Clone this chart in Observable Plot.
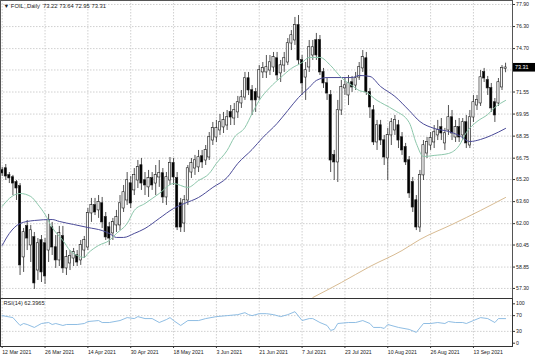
<!DOCTYPE html>
<html><head><meta charset="utf-8">
<script src="https://cdn.jsdelivr.net/npm/d3@7"></script>
<script src="https://cdn.jsdelivr.net/npm/@observablehq/plot@0.6"></script>
<style>
html,body{margin:0;padding:0;background:#fff;}
#chart{position:relative;width:536px;height:357px;overflow:hidden;background:#fff;}
#chart svg{position:absolute;left:0;display:block;overflow:visible;}
</style></head><body><div id="chart"></div>
<script>
const symbol = "FOIL,,Daily";
const opens = [65.86,66.00,65.50,65.35,64.99,64.70,59.55,61.80,60.42,61.00,
58.60,60.78,60.56,60.05,61.72,60.27,59.33,61.07,58.75,59.11,
59.47,59.69,59.33,60.05,60.27,62.74,63.32,62.96,63.46,62.45,
61.72,61.29,61.87,61.87,63.10,63.68,64.91,64.41,65.13,66.22,
65.13,64.63,65.28,64.91,65.35,65.64,63.90,65.13,66.37,65.28,
63.46,62.01,63.68,65.71,66.00,66.08,66.87,66.58,66.80,68.03,
68.25,68.76,68.98,69.12,70.07,69.63,70.07,70.72,71.15,72.53,
71.66,71.52,71.15,72.97,72.97,73.11,73.33,73.98,72.90,73.47,
73.69,75.07,75.29,76.38,73.84,72.60,73.33,74.20,75.29,75.29,
72.97,72.17,71.30,66.95,66.44,70.21,71.81,71.30,72.24,72.02,
72.60,73.26,73.98,71.52,70.21,67.89,69.12,68.03,66.73,68.40,
68.76,69.12,68.25,67.53,66.58,64.99,63.68,61.72,65.50,67.09,
67.67,67.89,68.40,68.98,67.82,68.76,69.70,68.25,68.98,68.40,
69.34,67.67,69.70,70.57,70.72,72.97,72.39,71.81,70.79,70.72,
71.88,73.22];
const highs = [66.08,66.29,65.71,65.50,65.13,64.91,61.65,62.23,61.87,61.36,
60.92,61.14,60.92,62.67,62.09,61.14,61.80,61.80,60.05,60.05,
60.20,60.05,60.78,61.07,63.10,63.83,63.83,64.04,63.90,62.81,
62.09,62.38,62.96,64.04,64.77,65.71,65.42,66.00,66.58,66.73,
65.71,65.86,65.71,66.22,66.58,66.00,65.71,66.80,66.73,65.71,
63.83,64.04,66.22,66.73,66.95,67.31,67.31,67.67,68.61,69.34,
69.49,69.92,70.07,70.21,70.57,70.72,71.23,71.66,72.97,72.97,
72.02,71.81,73.47,73.69,74.20,74.20,74.42,74.42,73.84,74.42,
75.43,76.01,76.96,77.10,74.20,73.69,75.29,75.29,75.80,75.65,
73.26,72.53,71.66,67.31,70.94,72.39,72.53,72.75,72.68,72.97,
73.69,74.56,74.42,71.81,70.57,69.49,69.49,68.40,68.91,69.63,
69.85,69.49,68.61,67.82,66.87,65.35,64.04,65.86,68.03,68.25,
68.61,69.12,69.49,69.63,68.91,70.57,70.21,69.49,69.63,69.63,
69.85,70.21,71.30,71.30,73.11,73.26,72.68,72.17,71.08,72.53,
73.47,73.64];
const lows = [65.42,65.13,64.91,64.04,63.68,58.24,58.46,60.05,59.18,57.23,
57.88,57.73,57.59,59.18,59.69,58.75,58.89,58.39,58.24,58.60,
58.89,58.89,58.97,59.47,60.05,62.09,62.59,62.38,61.65,60.78,
60.42,60.78,61.36,61.50,62.81,63.32,63.10,64.04,64.55,64.41,
64.04,63.90,64.41,64.04,64.63,63.46,63.32,64.77,64.77,61.50,
61.36,61.36,63.32,65.28,65.50,65.71,66.00,66.22,66.58,67.67,
67.89,68.40,68.54,68.76,69.12,69.12,69.63,70.36,70.94,71.30,
69.85,70.07,70.94,72.53,72.53,72.75,72.97,72.39,72.24,72.97,
73.47,74.56,74.93,73.47,71.30,70.94,72.97,73.84,73.84,72.75,
71.81,70.94,65.71,65.13,64.99,69.85,71.30,70.57,71.52,71.66,
72.39,72.97,71.30,69.63,67.67,67.31,67.67,66.22,65.13,67.67,
68.40,67.45,66.95,66.22,63.83,62.81,61.50,61.36,65.13,66.73,
67.31,67.45,68.03,68.03,67.31,68.40,68.03,67.89,67.89,68.03,
67.45,67.45,69.34,70.21,70.50,72.24,71.30,70.07,69.34,70.50,
71.66,72.95];
const closes = [65.64,65.42,65.28,64.91,64.55,58.97,61.36,60.92,61.50,57.66,
60.56,58.46,58.17,62.23,60.27,59.33,61.29,58.75,59.55,59.62,
59.91,59.18,60.42,60.78,62.74,63.32,62.81,63.54,62.09,61.00,
60.92,62.09,62.45,63.46,64.26,65.13,63.46,65.50,66.08,64.91,
64.77,65.28,64.77,65.50,65.64,63.90,65.35,66.37,65.35,61.72,
61.72,63.68,66.00,66.37,66.58,66.80,66.44,67.31,68.25,68.91,
68.91,69.34,69.49,69.70,69.70,70.21,70.79,71.15,72.53,71.66,
70.94,70.94,73.11,73.26,73.33,73.69,74.06,72.75,73.47,73.98,
75.07,75.65,76.38,73.84,72.17,73.11,74.78,74.78,74.20,72.97,
72.17,71.44,66.58,66.44,70.21,71.88,72.02,72.17,71.88,72.53,
73.33,74.06,71.52,70.43,67.89,69.12,68.03,66.80,68.40,69.34,
69.49,68.03,67.31,66.44,64.19,63.17,61.72,65.50,67.67,67.89,
68.18,68.61,68.76,68.54,68.54,69.70,68.54,68.98,68.25,69.34,
67.82,69.70,70.79,70.94,72.60,72.53,71.81,70.36,69.85,72.24,
73.26,73.31];

// moving averages (bar index, price)
const maFastBars = [0,2,5,8,10,12,14,17,19,21,23,24,27,30,32,35,37,40,44,48,52,55,58,60,63,65,68,70,72,75,78,81,84,86,89,92,95,98,100,102,105,107,110,114,116,118,121,125,128,130,133,136,138,141];
const maFastVals = [63.25,63.83,64.19,63.97,63.39,62.67,61.72,60.78,60.05,59.69,59.55,59.84,60.42,60.78,61.29,62.01,62.96,63.46,64.19,64.91,64.63,65.13,65.64,66.37,67.31,68.25,68.98,69.99,70.94,71.88,72.60,73.26,73.69,74.06,74.06,73.47,72.60,72.02,71.66,71.52,70.94,70.65,70.21,69.34,67.82,66.87,66.95,67.09,67.67,68.61,69.41,69.92,70.43,70.94];
const maSlowBars = [0,2,5,9,14,16,20,24,28,30,32,34,37,40,44,48,51,55,59,63,66,70,73,77,80,83,86,88,91,95,98,100,103,106,110,114,117,121,125,128,131,134,137,141];
const maSlowVals = [60.42,61.29,62.01,62.23,62.30,62.16,61.94,61.72,61.50,61.29,61.00,61.00,61.29,61.65,62.38,63.10,63.46,63.90,64.63,65.35,66.37,67.38,68.25,69.27,70.21,71.15,71.88,72.39,72.60,72.60,72.60,72.75,72.68,71.95,71.23,70.21,69.41,68.91,68.69,68.40,67.96,68.11,68.40,68.91];
const ma200Bars = [87,95,103,112,117,126,134,141];
const ma200Vals = [56.64,57.73,58.89,60.05,60.85,61.94,62.96,63.90];

const rsiBars = [0,3,5,6,7,9,10,11,13,14,15,17,18,21,23,24,27,28,30,33,35,37,38,40,42,44,46,47,48,50,52,55,57,60,63,66,68,69,70,72,74,76,78,80,82,84,86,87,89,91,92,93,94,97,99,101,103,104,106,107,108,111,114,116,118,120,122,124,125,127,129,130,132,134,136,138,139,141];
const rsiVals = [70,65,45,50,47.5,40,45,50,52.5,47.5,50,45,47.5,47.5,50,55,57.5,52.5,52.5,57.5,65,62.5,67.5,62.5,62.5,52.5,60,65,57.5,45,57.5,57.5,62.5,67.5,70,72.5,77.5,72.5,70,75,75,72.5,67.5,72.5,80,57.5,62.5,62.5,52.5,45,32.5,35,50,52.5,52.5,57.5,50,40,40,37.5,47.5,40,35,27.5,50,50,52.5,50,55,52.5,52.5,50,57.5,65,62.5,52.5,62.5,62.4];
const rsiLast = "62.3965";

const priceGrid = [77.90,76.30,74.70,73.15,71.55,69.95,68.35,66.75,65.20,63.60,62.00,60.45,58.85,57.30];
const priceTicks = [77.90,76.30,74.70,71.55,69.95,68.35,66.75,65.20,63.60,62.00,60.45,58.85,57.30];
const rsiTicks = [100,70,30,0];
const dateBars = [0,12,24,36,48,60,72,84,96,108,120,132];
const dateLabels = ["12 Mar 2021","26 Mar 2021","14 Apr 2021","30 Apr 2021","18 May 2021","3 Jun 2021","21 Jun 2021","7 Jul 2021","23 Jul 2021","10 Aug 2021","26 Aug 2021","13 Sep 2021"];

const FONT = "'Liberation Sans', Arial, sans-serif";
const bars = closes.map((c, i) => ({i, o: opens[i], h: highs[i], l: lows[i], c}));
const pairs = (b, v) => b.map((x, k) => ({bar: x, v: v[k]}));
const last = bars[bars.length - 1];
const xDomain = [-0.476, 142.94];
const gridStyle = {stroke: "#c4c4c4", strokeOpacity: 1, strokeDasharray: "1.5,1.5", strokeWidth: 0.8};

const main = Plot.plot({
  width: 536, height: 298,
  marginLeft: 0, marginRight: 24, marginTop: 0, marginBottom: 0,
  x: {type: "linear", domain: xDomain, axis: null},
  y: {domain: [56.57, 78.19], axis: null},
  style: {fontFamily: FONT, background: "#fff", color: "#222"},
  marks: [
    Plot.gridY(priceGrid, gridStyle),
    Plot.gridX(dateBars, gridStyle),
    Plot.ruleX(bars, {x: "i", y1: "l", y2: "h", stroke: "#1a1a1a", strokeWidth: 0.75}),
    Plot.rect(bars, {x1: d => d.i - 0.31, x2: d => d.i + 0.31,
      y1: d => Math.min(d.o, d.c), y2: d => Math.max(d.o, d.c) + 0.02,
      fill: d => d.c >= d.o ? "#f4f4f4" : "#000", stroke: "#1a1a1a", strokeWidth: 0.6}),
    Plot.line(pairs(ma200Bars, ma200Vals), {x: "bar", y: "v", stroke: "#d8bb92", strokeWidth: 1, curve: "monotone-x", clip: true}),
    Plot.line(pairs(maSlowBars, maSlowVals), {x: "bar", y: "v", stroke: "#4b4b98", strokeWidth: 1, curve: "monotone-x"}),
    Plot.line(pairs(maFastBars, maFastVals), {x: "bar", y: "v", stroke: "#8cc7ab", strokeWidth: 1, curve: "monotone-x"}),
    Plot.axisY(priceTicks, {anchor: "right", tickSize: 2, tickPadding: 1.5, fontSize: 5.2, label: null,
      tickFormat: d => d.toFixed(2), stroke: "#333"}),
    Plot.text([`\u25BC ${symbol}  ${last.o.toFixed(2)} ${last.h.toFixed(2)} ${last.l.toFixed(2)} ${last.c.toFixed(2)}`],
      {frameAnchor: "top-left", dx: 3, dy: 3.5, fontSize: 5.8, fill: "#222", textAnchor: "start", lineAnchor: "top"}),
    Plot.frame({stroke: "#555", strokeWidth: 1})
  ]
});
main.style.top = "0px";

const rsiPlot = Plot.plot({
  width: 536, height: 59,
  marginLeft: 0, marginRight: 24, marginTop: 0, marginBottom: 11,
  x: {type: "linear", domain: xDomain, axis: null},
  y: {domain: [-8.4, 113.5], axis: null},
  style: {fontFamily: FONT, background: "#fff", color: "#222"},
  marks: [
    Plot.gridY([70, 30], gridStyle),
    Plot.gridX(dateBars, gridStyle),
    Plot.line(pairs(rsiBars, rsiVals), {x: "bar", y: "v", stroke: "#82b6e0", strokeWidth: 0.9}),
    Plot.axisY(rsiTicks, {anchor: "right", tickSize: 2, tickPadding: 1.5, fontSize: 5.2, stroke: "#333", label: null}),
    Plot.axisX(dateBars, {anchor: "bottom", tickSize: 2, tickPadding: 1.5, fontSize: 5.2, textAnchor: "start", label: null,
      tickFormat: d => dateLabels[dateBars.indexOf(d)], stroke: "#333"}),
    Plot.text([`RSI(14) ${rsiLast}`], {frameAnchor: "top-left", dx: 3, dy: 2.5, fontSize: 5.6, fill: "#222", textAnchor: "start", lineAnchor: "top"}),
    Plot.frame({stroke: "#333", strokeWidth: 1})
  ]
});
rsiPlot.style.top = "298px";

const chart = document.getElementById("chart");
chart.appendChild(main);
chart.appendChild(rsiPlot);

// current price tag on the price scale, placed with the plot's own y scale
const yS = main.scale("y");
const yy = yS.apply(last.c);
const svg = d3.select(main);
svg.append("rect").attr("x", 513).attr("y", yy - 4.3).attr("width", 22).attr("height", 8.6).attr("fill", "#000");
svg.append("text").attr("x", 515).attr("y", yy).attr("dy", "0.35em").attr("text-anchor", "start")
  .attr("fill", "#fff").attr("font-size", 5.4).attr("font-family", FONT).text(last.c.toFixed(2));
</script>
</body></html>
